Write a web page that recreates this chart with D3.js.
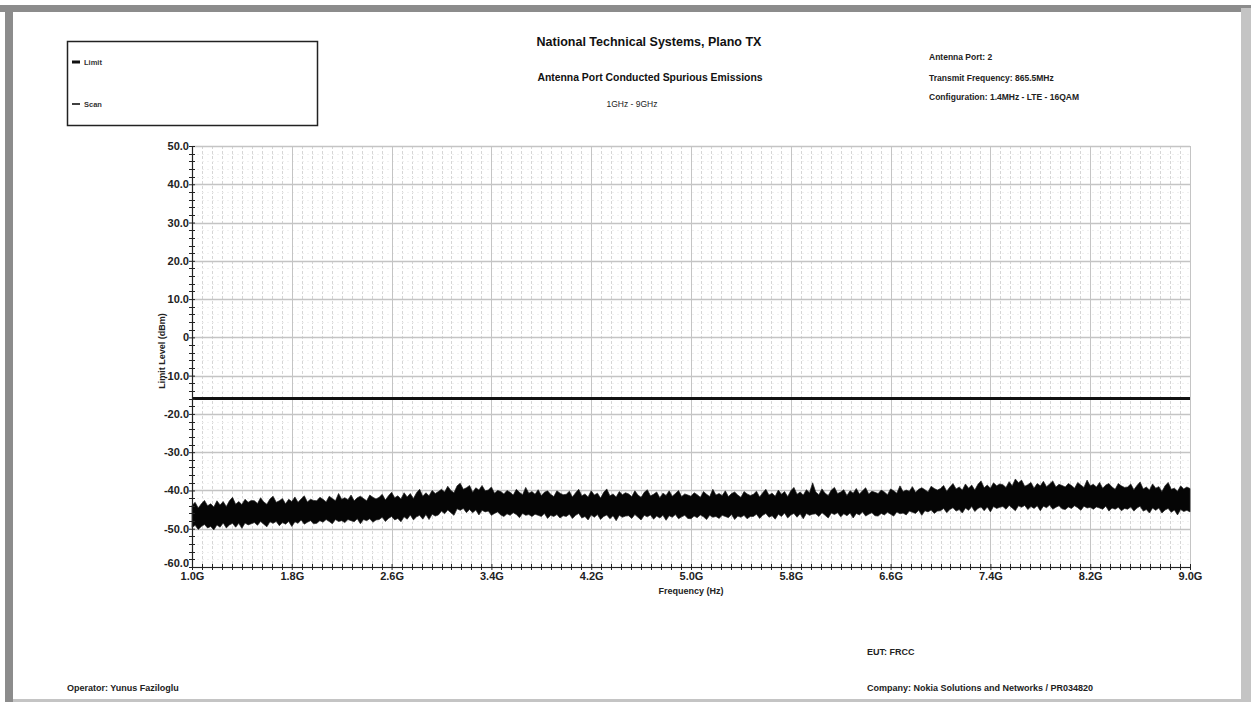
<!DOCTYPE html>
<html><head><meta charset="utf-8">
<script src="https://cdn.jsdelivr.net/npm/d3@7"></script>
<style>
html,body{margin:0;padding:0;background:#fff;}
svg{display:block;font-family:"Liberation Sans",Arial,sans-serif;}
</style></head>
<body>
<svg id="c" width="1251" height="702"></svg>
<script>
// ---------- data ----------
const yTicks = [50, 40, 30, 20, 10, 0, -10, -20, -30, -40, -50, -60];
const yTickLabels = ["50.0","40.0","30.0","20.0","10.0","0","-10.0","-20.0","-30.0","-40.0","-50.0","-60.0"];
const xTicks = [1.0, 1.8, 2.6, 3.4, 4.2, 5.0, 5.8, 6.6, 7.4, 8.2, 9.0];
const xTickLabels = ["1.0G","1.8G","2.6G","3.4G","4.2G","5.0G","5.8G","6.6G","7.4G","8.2G","9.0G"];
const limitFreq = [1.0, 9.0];
const limitLevel = [-16.0, -16.0];
// scan trace: one sample every 0.025 GHz from 1.0 GHz, upper and lower extent of the trace (dBm)
const scanStart = 1.0, scanStep = 0.025;
const scanHigh = [
-43.9,-43.1,-44.6,-43.5,-42.6,-44.0,-43.5,-44.3,-42.7,-43.8,-42.9,-44.2,-42.7,-41.8,-43.6,-42.9,-43.7,-42.3,-43.1,-42.6,
-42.7,-43.4,-41.9,-43.0,-43.6,-42.2,-41.5,-43.1,-42.7,-42.1,-43.5,-42.3,-42.9,-41.7,-43.1,-42.2,-41.4,-43.0,-42.3,-42.6,
-42.7,-41.8,-42.3,-43.0,-41.5,-42.1,-42.7,-40.8,-42.3,-41.9,-42.4,-41.2,-42.7,-41.9,-41.5,-42.1,-42.7,-41.2,-41.8,-42.2,
-41.8,-41.0,-42.5,-41.4,-40.5,-41.9,-41.4,-42.2,-40.6,-41.7,-40.8,-42.1,-40.6,-39.7,-41.5,-40.6,-41.4,-40.0,-40.8,-40.3,
-39.7,-40.4,-38.9,-40.0,-40.6,-38.8,-38.1,-39.7,-39.3,-38.7,-40.5,-39.3,-39.9,-38.7,-40.1,-39.9,-39.1,-40.7,-40.0,-40.3,
-40.9,-40.0,-40.5,-41.2,-39.7,-40.5,-41.1,-39.2,-40.7,-40.3,-41.0,-39.8,-41.3,-40.5,-40.1,-41.0,-41.6,-40.1,-40.7,-41.1,
-41.0,-40.2,-41.7,-40.6,-39.7,-41.4,-40.9,-41.7,-40.1,-41.2,-40.7,-42.0,-40.5,-39.6,-41.4,-40.9,-41.7,-40.3,-41.1,-40.6,
-40.9,-41.6,-40.1,-41.2,-41.8,-40.5,-39.8,-41.4,-41.0,-40.4,-41.9,-40.7,-41.3,-40.1,-41.5,-40.8,-40.0,-41.6,-40.9,-41.2,
-41.5,-40.6,-41.1,-41.8,-40.3,-41.0,-41.6,-39.7,-41.2,-40.8,-41.3,-40.1,-41.6,-40.8,-40.4,-41.2,-41.8,-40.3,-40.9,-41.3,
-41.0,-40.2,-41.7,-40.6,-39.7,-41.2,-40.7,-41.5,-39.9,-41.0,-40.3,-41.6,-40.1,-39.2,-41.0,-40.4,-41.2,-39.8,-40.6,-38.0,
-40.4,-41.1,-39.6,-40.7,-41.3,-39.9,-39.2,-40.8,-40.4,-39.8,-41.3,-40.1,-40.7,-39.5,-40.9,-40.1,-39.3,-40.9,-40.2,-40.5,
-40.8,-39.9,-40.4,-41.1,-39.6,-40.1,-40.7,-38.8,-40.3,-39.9,-40.2,-39.0,-40.5,-39.7,-39.3,-39.8,-40.4,-38.9,-39.5,-39.9,
-39.5,-38.7,-40.2,-39.1,-38.2,-39.6,-39.1,-39.9,-38.3,-39.4,-38.6,-39.9,-38.4,-37.5,-39.3,-38.6,-39.4,-38.0,-38.8,-38.3,
-38.5,-39.2,-37.7,-38.8,-37.0,-38.0,-37.3,-38.9,-38.5,-37.9,-39.4,-38.2,-38.8,-37.6,-39.0,-38.3,-37.5,-39.1,-38.4,-38.7,
-39.1,-38.2,-38.7,-39.4,-37.9,-38.6,-39.2,-37.3,-38.8,-38.4,-39.1,-37.9,-39.4,-38.6,-38.2,-39.1,-39.7,-38.2,-38.8,-39.2,
-39.1,-38.3,-39.8,-38.7,-37.8,-39.6,-39.1,-39.9,-38.3,-39.4,-39.0,-40.3,-38.8,-37.9,-39.7,-39.4,-40.2,-38.8,-39.6,-39.1,
-39.5];
const scanLow = [
-49.7,-49.1,-50.2,-49.4,-48.9,-49.8,-49.4,-50.3,-49.0,-49.6,-48.5,-49.8,-49.0,-48.6,-49.6,-48.6,-49.9,-48.5,-49.0,-48.7,
-48.4,-49.1,-48.1,-48.8,-49.5,-48.2,-48.6,-48.1,-49.2,-48.4,-48.8,-48.1,-49.4,-48.2,-48.6,-47.7,-48.8,-48.3,-47.9,-48.7,
-48.6,-47.9,-48.3,-47.6,-48.1,-48.7,-47.6,-48.1,-47.9,-48.4,-47.6,-47.9,-48.2,-47.4,-48.7,-47.6,-47.9,-47.4,-48.3,-47.7,
-47.6,-47.0,-48.1,-47.3,-46.8,-47.7,-47.3,-48.2,-46.9,-47.5,-46.4,-47.7,-46.9,-46.5,-47.5,-46.3,-47.6,-46.2,-46.7,-46.4,
-45.4,-46.1,-45.1,-45.8,-46.5,-44.8,-45.2,-44.7,-45.8,-45.0,-45.8,-45.1,-46.4,-45.2,-45.6,-45.4,-46.5,-46.0,-45.6,-46.4,
-46.8,-46.1,-46.5,-45.8,-46.3,-47.1,-46.0,-46.5,-46.3,-46.8,-46.2,-46.5,-46.8,-46.0,-47.3,-46.5,-46.8,-46.3,-47.2,-46.6,
-46.8,-46.2,-47.3,-46.5,-46.0,-47.2,-46.8,-47.7,-46.4,-47.0,-46.3,-47.6,-46.8,-46.4,-47.4,-46.6,-47.9,-46.5,-47.0,-46.7,
-46.6,-47.3,-46.3,-47.0,-47.7,-46.5,-46.9,-46.4,-47.5,-46.7,-47.2,-46.5,-47.8,-46.6,-47.0,-46.3,-47.4,-46.9,-46.5,-47.3,
-47.4,-46.7,-47.1,-46.4,-46.9,-47.6,-46.5,-47.0,-46.8,-47.3,-46.5,-46.8,-47.1,-46.3,-47.6,-46.7,-47.0,-46.5,-47.4,-46.8,
-46.8,-46.2,-47.3,-46.5,-46.0,-47.0,-46.6,-47.5,-46.2,-46.8,-45.9,-47.2,-46.4,-46.0,-47.0,-46.1,-47.4,-46.0,-46.5,-46.2,
-46.1,-46.8,-45.8,-46.5,-47.2,-45.9,-46.3,-45.8,-46.9,-46.1,-46.6,-45.9,-47.2,-46.0,-46.4,-45.6,-46.7,-46.2,-45.8,-46.6,
-46.7,-46.0,-46.4,-45.7,-46.2,-46.7,-45.6,-46.1,-45.9,-46.4,-45.4,-45.7,-46.0,-45.2,-46.5,-45.3,-45.6,-45.1,-46.0,-45.4,
-45.3,-44.7,-45.8,-45.0,-44.5,-45.4,-45.0,-45.9,-44.6,-45.2,-44.2,-45.5,-44.7,-44.3,-45.3,-44.3,-45.6,-44.2,-44.7,-44.4,
-44.2,-44.9,-43.9,-44.6,-45.3,-44.0,-44.4,-43.9,-45.0,-44.2,-44.7,-44.0,-45.3,-44.1,-44.5,-43.8,-44.9,-44.4,-44.0,-44.8,
-45.0,-44.3,-44.7,-44.0,-44.5,-45.2,-44.1,-44.6,-44.4,-44.9,-44.3,-44.6,-44.9,-44.1,-45.4,-44.6,-44.9,-44.4,-45.3,-44.7,
-44.9,-44.3,-45.4,-44.6,-44.1,-45.4,-45.0,-45.9,-44.6,-45.2,-44.6,-45.9,-45.1,-44.7,-45.7,-45.1,-46.4,-45.0,-45.5,-45.2,
-45.6];
const legendItems = ["Limit", "Scan"];
const titleLines = ["National Technical Systems, Plano TX", "Antenna Port Conducted Spurious Emissions", "1GHz - 9GHz"];
const infoLines = ["Antenna Port: 2", "Transmit Frequency: 865.5MHz", "Configuration: 1.4MHz - LTE - 16QAM"];
const footerLines = ["EUT: FRCC", "Operator: Yunus Faziloglu", "Company: Nokia Solutions and Networks / PR034820"];

// ---------- drawing ----------
const svg = d3.select("#c");
// frame
svg.append("rect").attr("x",0).attr("y",5).attr("width",1251).attr("height",7).attr("fill","#8c8c8c");
svg.append("rect").attr("x",5).attr("y",5).attr("width",8).attr("height",697).attr("fill","#8c8c8c");
svg.append("rect").attr("x",1241).attr("y",8).attr("width",10).attr("height",694).attr("fill","#c4c4c4");
svg.append("rect").attr("x",13).attr("y",699).attr("width",1238).attr("height",3).attr("fill","#c4c4c4");

const L = 192, R = 1190, T = 146, B = 567;
const x = d3.scaleLinear().domain([1.0, 9.0]).range([L, R]);
const y = d3.scaleLinear().domain([-60, 50]).range([B, T]);

const g = svg.append("g");
// minor vertical grid (every 0.08 GHz)
const minorX = d3.range(0, 101).map(i => 1.0 + i * 0.08).filter((v,i) => i % 10 !== 0);
g.selectAll(".mx").data(minorX).enter().append("line")
  .attr("x1", d => Math.round(x(d)) + 0.5).attr("x2", d => Math.round(x(d)) + 0.5)
  .attr("y1", T).attr("y2", B)
  .attr("stroke", "#d6d6d6").attr("stroke-width", 1).attr("stroke-dasharray", "3,2");
// minor horizontal grid (every 2 dB)
const minorY = d3.range(-60, 51, 2).filter(v => v % 10 !== 0);
g.selectAll(".my").data(minorY).enter().append("line")
  .attr("x1", L).attr("x2", R)
  .attr("y1", d => Math.round(y(d)) + 0.5).attr("y2", d => Math.round(y(d)) + 0.5)
  .attr("stroke", "#f0f0f0").attr("stroke-width", 1).attr("stroke-dasharray", "2,3");
// major grid
g.selectAll(".Mx").data(xTicks.slice(1)).enter().append("line")
  .attr("x1", d => Math.round(x(d)) + 0.5).attr("x2", d => Math.round(x(d)) + 0.5)
  .attr("y1", T).attr("y2", B).attr("stroke", "#c4c4c4").attr("stroke-width", 1);
g.selectAll(".My").data(yTicks).enter().append("line")
  .attr("x1", L).attr("x2", R)
  .attr("y1", d => Math.round(y(d)) + 0.5).attr("y2", d => Math.round(y(d)) + 0.5)
  .attr("stroke", "#c4c4c4").attr("stroke-width", 1.3);

// scan trace
const scanData = scanHigh.map((h, i) => ({f: scanStart + i * scanStep, hi: h, lo: scanLow[i]}));
const area = d3.area().x(d => x(d.f)).y0(d => y(d.lo)).y1(d => y(d.hi));
g.append("path").datum(scanData).attr("d", area)
  .attr("fill", "#050505").attr("stroke", "#222").attr("stroke-width", 0.7);

// limit line
const limitData = limitFreq.map((f, i) => ({f, v: limitLevel[i]}));
g.append("path").datum(limitData)
  .attr("d", d3.line().x(d => x(d.f)).y(d => y(d.v)))
  .attr("stroke", "#111").attr("stroke-width", 3).attr("fill", "none");

// axes
const fontAxis = "bold 11px 'Liberation Sans', Arial, sans-serif";
const yAxis = d3.axisLeft(y).tickValues(yTicks).tickFormat((d, i) => yTickLabels[i]).tickSize(6).tickSizeOuter(0);
const ya = svg.append("g").attr("transform", `translate(${L},0)`).call(yAxis);
ya.selectAll(".tick line").attr("x2", 3).attr("x1", -3).attr("stroke", "#222");
ya.selectAll(".tick text").attr("x", -3).attr("y", d => d === -60 ? -4 : 0)
  .style("font", fontAxis).attr("fill", "#222");
ya.select(".domain").attr("stroke", "#222").attr("stroke-width", 1.2);
svg.selectAll(".ymt").data(minorY).enter().append("line")
  .attr("x1", L - 3).attr("x2", L + 3)
  .attr("y1", d => Math.round(y(d)) + 0.5).attr("y2", d => Math.round(y(d)) + 0.5)
  .attr("stroke", "#222");

const xAxis = d3.axisBottom(x).tickValues(xTicks).tickFormat((d, i) => xTickLabels[i]).tickSize(6).tickSizeOuter(0);
const xa = svg.append("g").attr("transform", `translate(0,${B})`).call(xAxis);
xa.selectAll(".tick line").attr("y1", -3).attr("y2", 3).attr("stroke", "#222");
xa.selectAll(".tick text").attr("y", 5).style("font", fontAxis).attr("fill", "#222");
xa.select(".domain").attr("stroke", "#222").attr("stroke-width", 1.2);
svg.selectAll(".xmt").data(minorX).enter().append("line")
  .attr("x1", d => Math.round(x(d)) + 0.5).attr("x2", d => Math.round(x(d)) + 0.5)
  .attr("y1", B - 3).attr("y2", B + 3).attr("stroke", "#222");

// axis titles
svg.append("text").attr("x", (L + R) / 2).attr("y", 594).attr("text-anchor", "middle")
  .style("font", "bold 9px 'Liberation Sans', Arial, sans-serif").attr("fill", "#222").text("Frequency (Hz)");
svg.append("text").attr("transform", "translate(165,351) rotate(-90)").attr("text-anchor", "middle")
  .style("font", "bold 9px 'Liberation Sans', Arial, sans-serif").attr("fill", "#222").text("Limit Level (dBm)");

// titles
svg.append("text").attr("x", 649).attr("y", 46).attr("text-anchor", "middle")
  .style("font", "bold 12.5px 'Liberation Sans', Arial, sans-serif").attr("fill", "#111").text(titleLines[0]);
svg.append("text").attr("x", 650).attr("y", 81).attr("text-anchor", "middle")
  .style("font", "bold 10.4px 'Liberation Sans', Arial, sans-serif").attr("fill", "#111").text(titleLines[1]);
svg.append("text").attr("x", 632).attr("y", 107).attr("text-anchor", "middle")
  .style("font", "8.5px 'Liberation Sans', Arial, sans-serif").attr("fill", "#222").text(titleLines[2]);

// info
svg.selectAll(".info").data(infoLines).enter().append("text")
  .attr("x", 929).attr("y", (d, i) => [60, 81, 100][i])
  .style("font", "bold 8.5px 'Liberation Sans', Arial, sans-serif").attr("fill", "#222").text(d => d);

// legend
svg.append("rect").attr("x", 67.5).attr("y", 41.5).attr("width", 250).attr("height", 84)
  .attr("fill", "#fff").attr("stroke", "#222").attr("stroke-width", 1.5);
svg.selectAll(".lgl").data(legendItems).enter().append("line")
  .attr("x1", 72).attr("x2", 80).attr("y1", (d, i) => [62, 104][i]).attr("y2", (d, i) => [62, 104][i])
  .attr("stroke", "#111").attr("stroke-width", (d, i) => [3, 1.6][i]);
svg.selectAll(".lgt").data(legendItems).enter().append("text")
  .attr("x", 84).attr("y", (d, i) => [65, 107][i])
  .style("font", "bold 7.5px 'Liberation Sans', Arial, sans-serif").attr("fill", "#333").text(d => d);

// footer
svg.selectAll(".foot").data(footerLines).enter().append("text")
  .attr("x", (d, i) => [867, 67, 867][i]).attr("y", (d, i) => [655, 691, 691][i])
  .style("font", "bold 9px 'Liberation Sans', Arial, sans-serif").attr("fill", "#222").text(d => d);
</script>
</body></html>
